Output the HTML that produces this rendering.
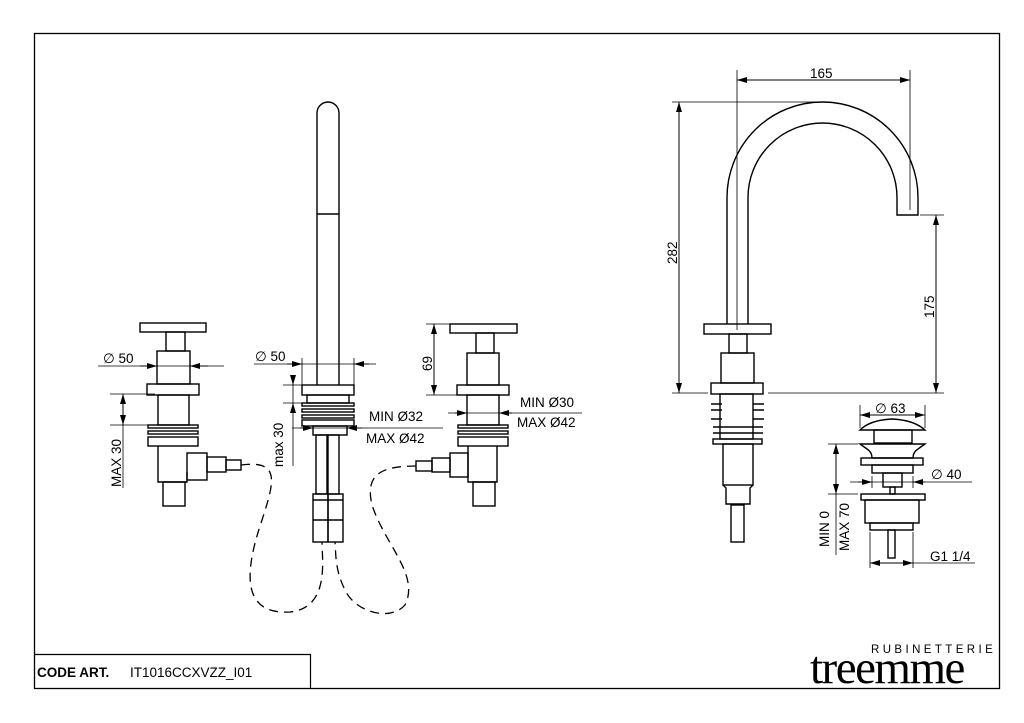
<!DOCTYPE html>
<html><head><meta charset="utf-8"><style>
html,body{margin:0;padding:0;background:#fff;}
svg{display:block;}
text{font-family:"Liberation Sans",Arial,sans-serif;fill:#000;}
</style></head><body>
<svg width="1024" height="723" viewBox="0 0 1024 723" xmlns="http://www.w3.org/2000/svg">
<defs>
<marker id="a" markerWidth="10" markerHeight="6" refX="10" refY="3" orient="auto-start-reverse" markerUnits="userSpaceOnUse"><path d="M0,0 L10,3 L0,6 Z" fill="#000"/></marker>
</defs>
<g fill="none" stroke="#000" stroke-width="1">
<rect x="34.5" y="33.5" width="965" height="655" stroke-width="1.3"/>
<path d="M34.5 654.5 H310.5 V688.5" stroke-width="1.2"/>

<g stroke-width="1.4">
<rect x="140" y="323" width="66" height="9"/>
<rect x="166" y="332" width="19" height="19"/>
<rect x="157" y="351" width="33" height="33"/>
<rect x="147" y="384" width="52" height="11"/>
<rect x="158" y="395" width="31" height="30"/>
<rect x="148" y="425" width="50" height="3"/>
<rect x="148" y="431" width="50" height="3"/>
<rect x="148" y="437" width="50" height="9"/>
<path d="M158 446 V482 H187 V472"/>
<rect x="163" y="482" width="22" height="24"/>
<rect x="187" y="453" width="20" height="27"/>
<rect x="207" y="457" width="19" height="15"/>
<rect x="226" y="460" width="15" height="10"/>
</g>
<path d="M98 366 H224" stroke-width="0.8"/>
<path d="M140 366 H157" marker-end="url(#a)"/>
<path d="M208 366 H190" marker-end="url(#a)"/>
<path d="M157 355 V372 M190 355 V372" stroke-width="0.8"/>
<path d="M110 394 H155 M110 425 H160" stroke-width="0.8"/>
<path d="M123 410 V394" marker-end="url(#a)"/>
<path d="M123 410 V425" marker-end="url(#a)"/>
<path d="M123 425 V488" stroke-width="0.8"/>

<g stroke-width="1.4">
<path d="M317 385 V113 A11 11 0 0 1 339 113 V385"/>
<path d="M317 214 H339"/>
<rect x="302" y="385" width="52" height="10"/>
<rect x="307" y="395" width="42" height="8"/>
<rect x="302" y="403" width="52" height="3"/>
<rect x="302" y="409" width="52" height="3"/>
<rect x="302" y="415" width="52" height="3"/>
<rect x="302" y="420" width="52" height="6"/>
<rect x="313" y="426" width="34" height="9"/>
<rect x="316" y="435" width="11" height="59"/>
<rect x="328" y="435" width="11" height="59"/>
<rect x="313" y="494" width="15" height="48"/>
<rect x="328" y="494" width="15" height="48"/>
<path d="M313 500 H343 M313 520 H343"/>
</g>
<path d="M254 364 H376" stroke-width="0.8"/>
<path d="M287 364 H302" marker-end="url(#a)"/>
<path d="M369 364 H354" marker-end="url(#a)"/>
<path d="M302 358 V385 M354 358 V385" stroke-width="0.8"/>
<path d="M283 385 H302 M283 403 H302" stroke-width="0.8"/>
<path d="M293 375 V385" marker-end="url(#a)"/>
<path d="M293 413 V403" marker-end="url(#a)"/>
<path d="M293 385 V403 M293 413 V466" stroke-width="0.8"/>
<path d="M292 428 H443" stroke-width="0.8"/>
<path d="M300 428 H313" marker-end="url(#a)"/>
<path d="M362 428 H347" marker-end="url(#a)"/>

<g stroke-width="1.4">
<rect x="450" y="324" width="67" height="9"/>
<rect x="476" y="333" width="18" height="20"/>
<rect x="467" y="353" width="32" height="32"/>
<rect x="457" y="385" width="52" height="10"/>
<rect x="467" y="395" width="32" height="30"/>
<rect x="458" y="425" width="50" height="3"/>
<rect x="458" y="431" width="50" height="3"/>
<rect x="458" y="437" width="50" height="9"/>
<path d="M468 446 V482 H497 V446"/>
<rect x="473" y="482" width="22" height="24"/>
<rect x="450" y="453" width="18" height="24"/>
<rect x="432" y="458" width="18" height="14"/>
<rect x="416" y="461" width="16" height="10"/>
</g>
<path d="M426 324 H450 M426 395 H457" stroke-width="0.8"/>
<path d="M434 360 V324" marker-end="url(#a)"/>
<path d="M434 360 V395" marker-end="url(#a)"/>
<path d="M448 413 H582" stroke-width="0.8"/>
<path d="M455 413 H467" marker-end="url(#a)"/>
<path d="M512 413 H499" marker-end="url(#a)"/>

<path d="M241 465 C280 460 275 480 262 520 C245 570 240 615 290 612 C330 608 322 560 322 542" stroke-dasharray="9,6" stroke-width="1.3"/>
<path d="M416 466 C380 466 365 475 372 505 C385 545 420 575 405 605 C390 622 355 612 345 590 C335 570 336 555 335 542" stroke-dasharray="9,6" stroke-width="1.3"/>

<g stroke-width="1.4">
<path d="M727 324 V197.5 A95.5 95.5 0 0 1 918 197.5 V215 H897 V197.5 A74.5 74.5 0 0 0 748 197.5 V324"/>
<rect x="704" y="324" width="67" height="10"/>
<rect x="729" y="334" width="18" height="19"/>
<rect x="721" y="353" width="33" height="30"/>
<rect x="711" y="383" width="52" height="11"/>
<rect x="720" y="394" width="33" height="45"/>
<path d="M711 404 H722 M711 410 H722 M711 419 H722 M753 404 H764 M753 410 H764 M753 419 H764"/>
<path d="M713 427 H763 M713 433 H763"/>
<rect x="713" y="439" width="49" height="5"/>
<rect x="723" y="444" width="30" height="41"/>
<path d="M723 485 L726 488 V504 H750 V488 L753 485"/>
<rect x="731" y="505" width="13" height="37"/>
</g>
<path d="M737 70 V330 M910 70 V210" stroke-width="0.8"/>
<path d="M823 80 H737" marker-end="url(#a)"/>
<path d="M823 80 H910" marker-end="url(#a)"/>
<path d="M672 102 H830 M672 393 H708 M768 393 H944 M920 215 H944" stroke-width="0.8"/>
<path d="M679 250 V102" marker-end="url(#a)"/>
<path d="M679 250 V393" marker-end="url(#a)"/>
<path d="M936 300 V215" marker-end="url(#a)"/>
<path d="M936 300 V393" marker-end="url(#a)"/>

<g stroke-width="1.4">
<path d="M860 430 Q870 420 892 419 Q914 420 925 430 Z"/>
<rect x="874" y="430" width="38" height="13"/>
<path d="M860 444 H925 L918 449 Q913 452 913 458 H872 Q872 452 867 449 Z"/>
<rect x="861" y="458" width="62" height="7"/>
<rect x="872" y="465" width="41" height="8"/>
<rect x="883" y="473" width="19" height="14"/>
<rect x="890" y="487" width="5" height="7"/>
<rect x="861" y="494" width="64" height="6"/>
<rect x="865" y="500" width="54" height="23"/>
<rect x="870" y="523" width="43" height="7"/>
<rect x="888" y="530" width="7" height="28"/>
</g>
<path d="M860 405 V428 M925 405 V428" stroke-width="0.8"/>
<path d="M890 415 H860" marker-end="url(#a)"/>
<path d="M890 415 H925" marker-end="url(#a)"/>
<path d="M850 482 H972" stroke-width="0.8"/>
<path d="M858 482 H872" marker-end="url(#a)"/>
<path d="M925 482 H913" marker-end="url(#a)"/>
<path d="M872 476 V488 M913 476 V488" stroke-width="0.8"/>
<path d="M828 444 H858 M828 494 H858" stroke-width="0.8"/>
<path d="M836 470 V444" marker-end="url(#a)"/>
<path d="M836 470 V494" marker-end="url(#a)"/>
<path d="M836 494 V555" stroke-width="0.8"/>
<path d="M870 532 V568 M913 532 V568" stroke-width="0.8"/>
<path d="M890 563 H870" marker-end="url(#a)"/>
<path d="M890 563 H913" marker-end="url(#a)"/>
<path d="M913 563 H975" stroke-width="0.8"/>
</g>

<g font-size="13.5">
<text x="103" y="363">∅ 50</text>
<text x="255" y="361">∅ 50</text>
<text x="369" y="421">MIN Ø32</text>
<text x="366" y="443">MAX Ø42</text>
<text x="520" y="407">MIN Ø30</text>
<text x="517" y="427">MAX Ø42</text>
<text x="810" y="78">165</text>
<text x="875" y="413">∅ 63</text>
<text x="931" y="479">∅ 40</text>
<text x="930" y="561">G1 1/4</text>
<text transform="translate(121,487) rotate(-90)">MAX 30</text>
<text transform="translate(283,467) rotate(-90)">max 30</text>
<text transform="translate(432,371) rotate(-90)">69</text>
<text transform="translate(677,264) rotate(-90)">282</text>
<text transform="translate(934,318) rotate(-90)">175</text>
<text transform="translate(829,547) rotate(-90)">MIN 0</text>
<text transform="translate(849,551) rotate(-90)">MAX 70</text>
</g>
<text x="37" y="677" font-size="13.5" font-weight="bold">CODE ART.</text>
<text x="130" y="677" font-size="13.5">IT1016CCXVZZ_I01</text>
<text x="871" y="653" font-size="11.5" letter-spacing="3.4">RUBINETTERIE</text>
<text x="810" y="683" font-size="47" style="font-family:'Liberation Serif',serif" letter-spacing="-1.5">treemme</text>
</svg>
</body></html>
